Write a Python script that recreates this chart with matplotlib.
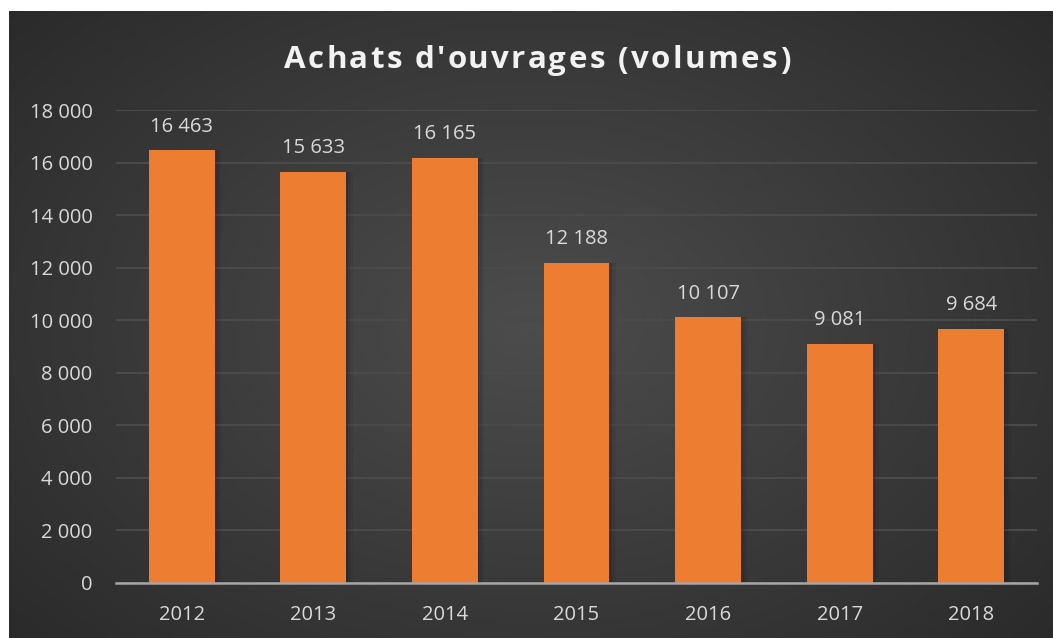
import numpy as np
import matplotlib.pyplot as plt

years = ['2012', '2013', '2014', '2015', '2016', '2017', '2018']
volumes = [16463, 15633, 16165, 12188, 10107, 9081, 9684]
yticks = [0, 2000, 4000, 6000, 8000, 10000, 12000, 14000, 16000, 18000]
title = "Achats d'ouvrages (volumes)"

def fmt(v):
    return '{:,}'.format(v).replace(',', ' ')

plt.rcParams['font.family'] = ['Open Sans', 'DejaVu Sans']

fig = plt.figure(figsize=(10.53, 6.38), dpi=100)
fig.patch.set_facecolor('white')

# dark radial gradient background
bg = fig.add_axes([9/1053, 0, 1 - 9/1053, 1 - 11/638])
yy, xx = np.mgrid[0:1:300j, 0:1:500j]
r = np.sqrt(((xx - 0.5) / 0.75)**2 + ((yy - 0.5) / 0.85)**2)
shade = 0.30 - 0.15 * np.clip(r, 0, 1)
bg.imshow(np.dstack([shade, shade, shade]), aspect='auto', extent=[0, 1, 0, 1])
bg.axis('off')

ax = fig.add_axes([116/1053, 1 - 583/638, (1037 - 116)/1053, (583 - 110)/638])
ax.patch.set_alpha(0)
x = np.arange(len(years))
# soft shadow
for k, a in enumerate([0.12, 0.08, 0.05]):
    ax.bar(x + 0.01 * (k + 1), volumes, width=0.5 + 0.02 * k, color='black',
           alpha=a, zorder=2)
ax.bar(x, volumes, width=0.5, color='#ED7D31', zorder=3)

for xi, v in zip(x, volumes):
    ax.annotate(fmt(v), (xi, v), xytext=(0, 10), textcoords='offset points',
                ha='center', va='bottom', color='#d9d9d9', fontsize=14.5)

ax.set_xlim(-0.5, len(years) - 0.5)
ax.set_ylim(0, 18000)
ax.set_yticks(yticks)
ax.set_yticklabels([fmt(t) for t in yticks])
ax.set_xticks(x)
ax.set_xticklabels(years)
ax.tick_params(length=0, colors='#d9d9d9', labelsize=14.5)
ax.tick_params(axis='y', pad=17)
ax.tick_params(axis='x', pad=16)
ax.grid(axis='y', color='#4a4a4a', linewidth=1.5, zorder=0)
ax.set_axisbelow(True)
for s in ['top', 'right', 'left']:
    ax.spines[s].set_visible(False)
ax.spines['bottom'].set_color('#a6a6a6')
ax.spines['bottom'].set_linewidth(1.8)
ax.spines['bottom'].set_zorder(4)

# title with letter spacing, drawn char by char
renderer = fig.canvas.get_renderer()
spacing = 2.4  # px between letters
tsize = 22.5
widths = []
for i in range(len(title)):
    t = fig.text(0, 0, title[:i + 1], fontsize=tsize, fontweight='bold')
    widths.append(t.get_window_extent(renderer).width)
    t.remove()
total = widths[-1] + spacing * (len(title) - 1)
x0 = 537 - total / 2
prev = 0
for i, ch in enumerate(title):
    fig.text((x0 + prev + spacing * i) / 1053, 1 - 57/638, ch, ha='left',
             va='center_baseline', color='#f2f2f2', fontsize=tsize,
             fontweight='bold')
    prev = widths[i]

fig.savefig('out.png', dpi=100)
